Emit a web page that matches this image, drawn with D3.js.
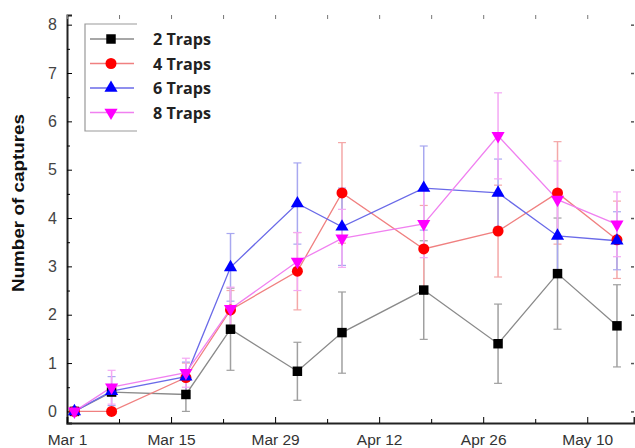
<!DOCTYPE html>
<html>
<head>
<meta charset="utf-8">
<script src="https://cdn.jsdelivr.net/npm/d3@7"></script>
<style>
  body { margin: 0; background: #fff; }
  text { font-family: "Liberation Sans", Arial, sans-serif; }
</style>
</head>
<body>
<div id="chart"></div>
<script>

// sampling dates (trap checks)
const dates = ["2021-03-02", "2021-03-07", "2021-03-17", "2021-03-23", "2021-04-01",
               "2021-04-07", "2021-04-18", "2021-04-28", "2021-05-06", "2021-05-14"];

// mean captures and error for each trap density
const traps2 = [0, 0.4, 0.35, 1.7, 0.83, 1.63, 2.51, 1.4, 2.85, 1.77];
const err2   = [0, 0, 0.35, 0.85, 0.6, 0.84, 1.02, 0.82, 1.15, 0.85];
const traps4 = [0, 0, 0.7, 2.1, 2.9, 4.52, 3.36, 3.73, 4.52, 3.55];
const err4   = [0, 0, 0.3, 0.4, 0.8, 1.04, 0.9, 0.95, 1.06, 0.8];
const traps6 = [0, 0.42, 0.72, 2.98, 4.3, 3.82, 4.62, 4.52, 3.63, 3.53];
const err6   = [0, 0.3, 0.3, 0.7, 0.84, 0.8, 0.87, 0.7, 0.8, 0.6];
const traps8 = [0, 0.5, 0.8, 2.12, 3.1, 3.58, 3.88, 5.7, 4.38, 3.87];
const err8   = [0, 0.35, 0.3, 0.45, 0.6, 0.6, 0.7, 0.89, 0.8, 0.67];

const seriesNames = ["2 Traps", "4 Traps", "6 Traps", "8 Traps"];
const yTicks = [0, 1, 2, 3, 4, 5, 6, 7, 8];
const xTickDates = ["2021-03-01", "2021-03-15", "2021-03-29", "2021-04-12", "2021-04-26", "2021-05-10"];
const xTickLabels = ["Mar 1", "Mar 15", "Mar 29", "Apr 12", "Apr 26", "May 10"];

// Set dimensions
const width = 635;
const height = 448;
const margin = {left: 67, right: 1, top: 15, bottom: 25};

const parse = d3.timeParse("%Y-%m-%d");

const series = [
  {name: seriesNames[0], values: traps2, err: err2, color: "#000000", line: "#8a8a8a", bar: "#a0a0a0", shape: "square"},
  {name: seriesNames[1], values: traps4, err: err4, color: "#ff0000", line: "#f08080", bar: "#f4a8a8", shape: "circle"},
  {name: seriesNames[2], values: traps6, err: err6, color: "#0000ff", line: "#6a6ae8", bar: "#a8a8f0", shape: "up"},
  {name: seriesNames[3], values: traps8, err: err8, color: "#ff00ff", line: "#f080f0", bar: "#f4a8f4", shape: "down"}
];

const svg = d3.select("#chart")
  .append("svg")
  .attr("width", width)
  .attr("height", height);

// scales
const xScale = d3.scaleTime()
  .domain([parse("2021-03-01"), d3.timeHour.offset(parse("2021-05-16"), 7)])
  .range([margin.left, width - margin.right]);

const yScale = d3.scaleLinear()
  .domain([-0.24, 8.2])
  .range([height - margin.bottom, margin.top]);

// marker shapes
function symbolFor(shape) {
  if (shape == "square") return d3.symbol(d3.symbolSquare, 90);
  if (shape == "circle") return d3.symbol(d3.symbolCircle, 95);
  return d3.symbol(d3.symbolTriangle, 75);
}

/*
  Axes
*/

// left axis, major ticks inward
svg.append("g")
  .attr("transform", `translate(${margin.left},0)`)
  .call(d3.axisLeft(yScale).tickValues(yTicks).tickSize(-5).tickPadding(10).tickFormat(d3.format("d")))
  .call(g => g.select(".domain").attr("stroke-width", 2).attr("stroke", "#222"))
  .call(g => g.selectAll("text").attr("font-size", "16px").attr("fill", "#444"));

// left minor ticks
svg.append("g")
  .attr("transform", `translate(${margin.left},0)`)
  .call(d3.axisLeft(yScale).tickValues(d3.range(0.5, 8, 1)).tickSize(-3).tickFormat(""))
  .call(g => g.select(".domain").remove());

// bottom axis
const xAxis = svg.append("g")
  .attr("transform", `translate(0,${height - margin.bottom})`)
  .call(d3.axisBottom(xScale).tickValues(xTickDates.map(parse)).tickSize(-6).tickPadding(11)
    .tickFormat((d, i) => xTickLabels[i]))
  .call(g => g.select(".domain").attr("stroke-width", 2).attr("stroke", "#222"))
  .call(g => g.selectAll("text").attr("font-size", "15.5px").attr("fill", "#333"));

// bottom minor ticks (halfway between majors)
const minorDates = xTickDates.map(d => d3.timeDay.offset(parse(d), 7));
svg.append("g")
  .attr("transform", `translate(0,${height - margin.bottom})`)
  .call(d3.axisBottom(xScale).tickValues(minorDates).tickSize(-4).tickFormat(""))
  .call(g => g.select(".domain").remove());

// top ticks only (frame cut off)
svg.append("g")
  .attr("transform", `translate(0,${margin.top})`)
  .call(d3.axisTop(xScale).tickValues(xTickDates.map(parse).concat(minorDates)).tickSize(-4).tickFormat(""))
  .call(g => g.select(".domain").remove())
  .call(g => g.selectAll("line").attr("stroke", "#777"));

// right ticks only
svg.append("g")
  .attr("transform", `translate(${width - 1},0)`)
  .call(d3.axisRight(yScale).tickValues(yTicks).tickSize(-3).tickFormat(""))
  .call(g => g.select(".domain").remove())
  .call(g => g.selectAll("line").attr("stroke", "#555").attr("stroke-width", 1.5));

// y axis title
svg.append("text")
  .attr("transform", "translate(24,203) rotate(-90)")
  .attr("text-anchor", "middle")
  .attr("font-size", "17px")
  .attr("font-weight", "bold")
  .attr("fill", "#111")
  .attr("textLength", 178)
  .attr("lengthAdjust", "spacingAndGlyphs")
  .text("Number of captures");

/*
  Error bars, lines, markers
*/

const plot = svg.append("g");

series.forEach(s => {
  const pts = dates.map((d, i) => ({date: parse(d), v: s.values[i], e: s.err[i]}));
  const eb = plot.append("g");
  pts.filter(p => p.e > 0).forEach(p => {
    const x = xScale(p.date);
    eb.append("line")
      .attr("x1", x).attr("x2", x)
      .attr("y1", yScale(p.v - p.e)).attr("y2", yScale(p.v + p.e))
      .attr("stroke", s.bar).attr("stroke-width", 1.5);
    [p.v - p.e, p.v + p.e].forEach(c => {
      eb.append("line")
        .attr("x1", x - 4).attr("x2", x + 4)
        .attr("y1", yScale(c)).attr("y2", yScale(c))
        .attr("stroke", s.bar).attr("stroke-width", 1.2);
    });
  });
  s.pts = pts;
});

series.forEach(s => {
  plot.append("path")
    .datum(s.pts)
    .attr("fill", "none")
    .attr("stroke", s.line)
    .attr("stroke-width", 1.3)
    .attr("d", d3.line().x(p => xScale(p.date)).y(p => yScale(p.v)));
});

series.forEach(s => {
  plot.selectAll(null)
    .data(s.pts)
    .enter()
    .append("path")
      .attr("d", symbolFor(s.shape))
      .attr("transform", p => `translate(${xScale(p.date)},${yScale(p.v)})` + (s.shape == "down" ? " rotate(180)" : ""))
      .attr("fill", s.color);
});

/*
  Legend
*/

const legend = svg.append("g");
legend.append("path")
  .attr("d", "M137,24 H85 V131 H137")
  .attr("fill", "none")
  .attr("stroke", "#999")
  .attr("stroke-width", 1.2);

series.forEach((s, i) => {
  const ly = 39 + i * 24.5;
  legend.append("line")
    .attr("x1", 90).attr("x2", 134)
    .attr("y1", ly).attr("y2", ly)
    .attr("stroke", s.line).attr("stroke-width", 1.3);
  legend.append("path")
    .attr("d", symbolFor(s.shape))
    .attr("transform", `translate(111,${ly})` + (s.shape == "down" ? " rotate(180)" : ""))
    .attr("fill", s.color);
  legend.append("text")
    .attr("x", 153).attr("y", ly + 6)
    .attr("font-size", "16px")
    .attr("font-weight", "bold")
    .attr("fill", "#222")
    .style("font-family", "'Open Sans', sans-serif")
    .attr("textLength", 58)
    .attr("lengthAdjust", "spacingAndGlyphs")
    .text(s.name);
});

</script>
</body>
</html>
